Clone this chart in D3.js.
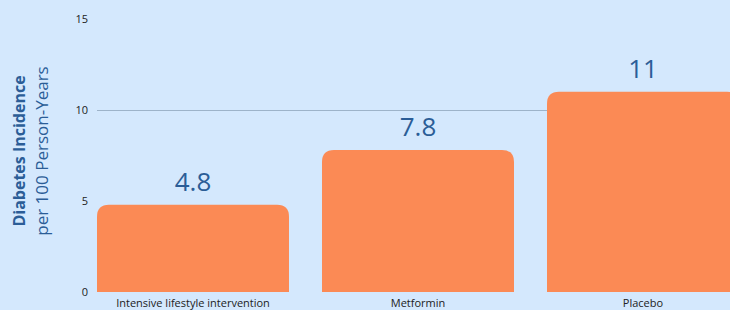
<!DOCTYPE html>
<html>
<head>
<meta charset="utf-8">
<script src="https://cdn.jsdelivr.net/npm/d3@7"></script>
<style>
  body { margin: 0; background: #d4e8fd; }
  svg { display: block; font-family: "Open Sans", sans-serif; }
</style>
</head>
<body>
<div id="chart"></div>
<script>
// Diabetes incidence by treatment group

var categories = ["Intensive lifestyle intervention", "Metformin", "Placebo"];
var incidence = [4.8, 7.8, 11];
var valueLabels = ["4.8", "7.8", "11"];
var yTicks = [0, 5, 10, 15];
var gridValues = [10];

var svgWidth = 730;
var svgHeight = 310;

var svg = d3.select("#chart")
    .append("svg")
    .attr("width", svgWidth)
    .attr("height", svgHeight);

svg.append("rect")
    .attr("width", svgWidth)
    .attr("height", svgHeight)
    .attr("fill", "#d4e8fd");

// Scales (third bar runs past the right edge, like the original)
var xScale = d3.scaleBand()
    .domain(categories)
    .range([97, 739])
    .paddingInner(33 / 225)
    .paddingOuter(0);

var yScale = d3.scaleLinear()
    .domain([0, 15])
    .range([292, 19]);

// Grid line
svg.selectAll(".grid")
    .data(gridValues)
    .enter()
    .append("line")
    .attr("class", "grid")
    .attr("x1", 97)
    .attr("x2", svgWidth)
    .attr("y1", d => yScale(d) + 0.5)
    .attr("y2", d => yScale(d) + 0.5)
    .attr("stroke", "#9db3c9")
    .attr("stroke-width", 1);

// Y axis
var yAxis = d3.axisLeft(yScale)
    .tickValues(yTicks)
    .tickSize(0)
    .tickPadding(0);

var yAxisGroup = svg.append("g")
    .attr("transform", "translate(88,0)")
    .call(yAxis);
yAxisGroup.select(".domain").remove();
yAxisGroup.selectAll("text")
    .attr("font-family", "Open Sans, sans-serif")
    .attr("font-size", 11)
    .attr("fill", "#222");

// X axis
var xAxis = d3.axisBottom(xScale)
    .tickSize(0)
    .tickPadding(7);

var xAxisGroup = svg.append("g")
    .attr("transform", "translate(0,292)")
    .call(xAxis);
xAxisGroup.select(".domain").remove();
xAxisGroup.selectAll("text")
    .attr("font-family", "Open Sans, sans-serif")
    .attr("font-size", 11)
    .attr("fill", "#222");

// Bars with rounded top corners
function barPath(x, y, w, h, r) {
    return "M" + x + "," + (y + h) +
        "V" + (y + r) +
        "Q" + x + "," + y + " " + (x + r) + "," + y +
        "H" + (x + w - r) +
        "Q" + (x + w) + "," + y + " " + (x + w) + "," + (y + r) +
        "V" + (y + h) + "Z";
}

var data = categories.map((c, i) => ({ cat: c, value: incidence[i], label: valueLabels[i] }));

svg.selectAll(".bar")
    .data(data)
    .enter()
    .append("path")
    .attr("class", "bar")
    .attr("fill", "#fb8a55")
    .attr("d", d => barPath(xScale(d.cat), yScale(d.value), xScale.bandwidth(), yScale(0) - yScale(d.value), 12));

// Value labels
svg.selectAll(".value")
    .data(data)
    .enter()
    .append("text")
    .attr("class", "value")
    .attr("x", d => xScale(d.cat) + xScale.bandwidth() / 2)
    .attr("y", d => yScale(d.value) - 14)
    .attr("text-anchor", "middle")
    .attr("font-size", 26)
    .attr("fill", "#2b5d97")
    .text(d => d.label);

// Y axis title
var title = svg.append("g")
    .attr("transform", "translate(0,151) rotate(-90)");
title.append("text")
    .attr("x", 0)
    .attr("y", 25)
    .attr("text-anchor", "middle")
    .attr("font-size", 16)
    .attr("font-weight", "bold")
    .attr("fill", "#2b5d97")
    .text("Diabetes Incidence");
title.append("text")
    .attr("x", 0)
    .attr("y", 48)
    .attr("text-anchor", "middle")
    .attr("font-size", 17)
    .attr("fill", "#2b5d97")
    .text("per 100 Person-Years");
</script>
</body>
</html>
